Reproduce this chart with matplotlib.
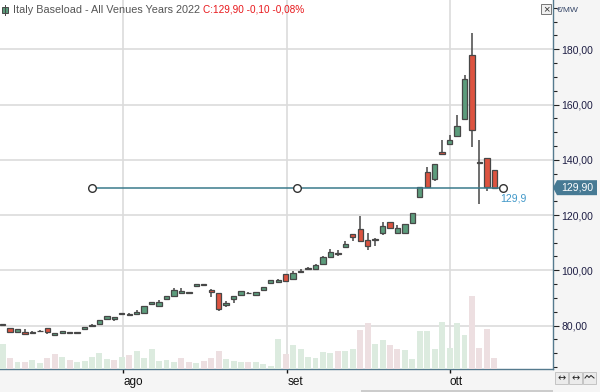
import matplotlib
matplotlib.use("Agg")
import matplotlib.pyplot as plt
from matplotlib.patches import Rectangle, Polygon
from matplotlib.ticker import MultipleLocator, FixedLocator

plt.rcParams['font.family'] = ['Liberation Sans', 'DejaVu Sans']

# ---------------- data (daily candles, index 0..66) ----------------
opens = [80.3, 79.0, 77.5, 77.8, 77.2, 77.9, 79.0, 76.6, 77.3, 77.6,
         77.4, 78.6, 79.9, 80.7, 82.5, 82.3, 84.3, 83.7, 84.1, 84.5,
         87.8, 87.2, 89.7, 90.8, 91.7, 91.8, 94.3, 94.6, 92.8, 91.8,
         87.5, 89.6, 90.9, 91.6, 90.9, 92.75, 95.5, 95.6, 98.5, 96.7,
         99.4, 100.6, 100.4, 102.2, 104.8, 106.2, 108.5, 113.1, 114.8, 110.9,
         110.9, 113.6, 117.4, 113.4, 113.6, 117.0, 126.6, 135.5, 132.9, 142.7,
         145.6, 148.7, 154.7, 177.9, 139.0, 140.5, 136.2]
highs = [80.7, 79.1, 78.7, 78.6, 78.0, 78.2, 79.1, 77.3, 78.0, 77.7,
         77.8, 79.4, 80.4, 82.0, 83.5, 83.1, 84.6, 84.4, 85.7, 87.2,
         88.6, 89.2, 90.8, 93.5, 93.5, 92.0, 95.0, 95.0, 93.2, 91.9,
         88.8, 90.6, 92.4, 92.0, 92.0, 93.9, 96.6, 96.7, 98.6, 99.7,
         100.3, 101.0, 102.3, 105.2, 107.7, 107.3, 110.5, 113.2, 119.6, 113.5,
         111.6, 117.5, 117.5, 116.4, 116.7, 120.7, 130.1, 137.5, 138.5, 147.2,
         149.0, 156.2, 170.7, 186.0, 147.2, 140.6, 136.3]
lows = [79.9, 77.5, 77.4, 76.7, 77.1, 77.8, 77.0, 76.3, 77.2, 77.4,
        77.2, 78.5, 79.7, 80.6, 82.3, 81.8, 84.1, 83.6, 84.0, 84.4,
        87.7, 87.1, 89.1, 90.7, 91.6, 91.6, 94.2, 94.4, 90.4, 85.4,
        86.6, 88.3, 90.8, 91.4, 90.8, 92.6, 95.4, 95.5, 95.9, 96.6,
        98.9, 100.3, 100.3, 102.1, 104.7, 105.3, 108.4, 110.5, 110.4, 107.4,
        108.7, 112.9, 115.0, 113.3, 113.4, 116.9, 126.5, 129.9, 132.3, 141.9,
        145.5, 148.6, 154.6, 144.8, 123.9, 128.8, 129.6]
closes = [80.6, 77.6, 78.6, 76.9, 77.7, 78.0, 77.7, 77.2, 77.9, 77.4,
          77.5, 79.4, 80.0, 81.9, 83.3, 83.0, 84.4, 84.3, 84.9, 87.1,
          88.5, 88.5, 90.7, 92.85, 92.5, 91.8, 94.9, 94.7, 92.0, 86.1,
          88.2, 90.6, 92.4, 91.7, 92.0, 93.8, 96.4, 96.4, 96.0, 99.0,
          99.6, 100.7, 101.9, 104.7, 106.6, 106.0, 109.5, 111.9, 110.7, 108.9,
          111.3, 116.0, 115.4, 115.3, 116.65, 120.6, 130.0, 130.3, 138.4, 142.0,
          147.2, 152.1, 169.1, 150.8, 138.9, 130.0, 129.9]
volumes = [25, 11, 7, 7, 9, 6, 11, 15, 12, 9,
           7, 8, 12, 16, 10, 9, 12, 14, 18, 11,
           20, 8, 9, 7, 11, 7, 6, 8, 11, 18,
           10, 8, 7, 7, 7, 5, 3, 30, 15, 24,
           20, 12, 11, 17, 16, 18, 18, 20, 39, 46,
           25, 29, 24, 20, 19, 10, 38, 38, 20, 47,
           21, 46, 34, 73, 21, 40, 11]

month_ticks = [16.2, 38.2, 60.05]
month_labels = ["ago", "set", "ott"]
level_value = 129.9
level_points = [12.0, 39.5, 67.2]
title = "Italy Baseload - All Venues Years 2022"
quote = "C:129,90 -0,10 -0,08%"

# ---------------- figure ----------------
W, H = 600, 392
fig = plt.figure(figsize=(W / 100, H / 100), dpi=100)
fig.patch.set_facecolor('#f5f5f5')

px_left, px_right, px_bottom = 0, 553, 369
ax = fig.add_axes([px_left / W, (H - px_bottom) / H, (px_right - px_left) / W, px_bottom / H])
ax.set_facecolor('white')

step = 7.45
x0 = 2.6
ax.set_xlim(-x0 / step, (px_right - x0) / step)
ymax = 180 + 49.3 / 2.762
ymin = 180 - (369 - 49.3) / 2.762
ax.set_ylim(ymin, ymax)

# grid
ax.yaxis.set_major_locator(MultipleLocator(20))
ax.yaxis.set_minor_locator(MultipleLocator(5))
ax.xaxis.set_major_locator(FixedLocator(month_ticks))
ax.grid(True, which='major', color='#dcdcdc', lw=1.2, zorder=0)
ax.set_axisbelow(True)

# volume (twin axis, pixel units)
axv = ax.twinx()
axv.set_ylim(0, px_bottom)
axv.patch.set_visible(False)
axv.set_yticks([])
for s in axv.spines.values():
    s.set_visible(False)
up_col, dn_col = '#dcebdf', '#eddfe1'
vcols = []
for i, c in enumerate(closes):
    prev = closes[i - 1] if i > 0 else c - 1
    vcols.append(up_col if c >= prev else dn_col)
axv.bar(range(len(volumes)), volumes, width=0.8, color=vcols, zorder=1, linewidth=0)

# candles overlay axis
axc = ax.twinx()
axc.set_ylim(ymin, ymax)
axc.patch.set_visible(False)
axc.set_yticks([])
for s in axc.spines.values():
    s.set_visible(False)

green, red, edge = '#5c9c7c', '#dc5340', '#474747'
bw = 0.72
for i in range(len(opens)):
    o, h, l, c = opens[i], highs[i], lows[i], closes[i]
    axc.vlines(i, l, h, color=edge, lw=1.1, zorder=2)
    lo, hi = min(o, c), max(o, c)
    hgt = max(hi - lo, 0.25)
    axc.add_patch(Rectangle((i - bw / 2, lo), bw, hgt, facecolor=green if c >= o else red,
                            edgecolor=edge, lw=0.9, zorder=3))

# horizontal level line
axc.plot(level_points, [level_value] * len(level_points), color='#3a7a8c', lw=1.1, zorder=4)
axc.plot(level_points, [level_value] * len(level_points), 'o', mfc='white', mec='#333333',
         ms=5.5, mew=1.0, zorder=5)
axc.annotate("129,9", xy=(level_points[-1], level_value), xytext=(7, -8),
             textcoords='offset points', ha='center', va='center',
             color='#3f97c8', fontsize=7.5, zorder=6)

# axes styling
for side in ('top', 'left'):
    ax.spines[side].set_visible(False)
for side in ('right', 'bottom'):
    ax.spines[side].set_color('#557a8e')
    ax.spines[side].set_linewidth(1.0)
ax.yaxis.tick_right()
ax.tick_params(axis='y', which='major', length=4, width=0.8, color='#222222', pad=2,
               labelsize=7.5, labelcolor='#1e1e44')
ax.tick_params(axis='y', which='minor', length=3, width=0.8, color='#222222')
ax.yaxis.set_major_formatter(plt.FuncFormatter(lambda v, p: f"{v:.2f}".replace('.', ',')))
ax.tick_params(axis='x', length=3, width=1.0, color='#111111', pad=2, labelsize=8.5,
               labelcolor='#111111')
ax.set_xticklabels(month_labels, ha='left')

# price tag on right axis
fig.canvas.draw()
yp = ax.transData.transform((0, closes[-1]))[1]
tag = [(553, yp), (557, yp + 7.5), (597, yp + 7.5), (597, yp - 7.5), (557, yp - 7.5)]
fig.patches.append(Polygon([(x / W, y / H) for x, y in tag], closed=True,
                           transform=fig.transFigure, facecolor='#477a94', edgecolor='none'))
fig.text(577 / W, yp / H, f"{closes[-1]:.2f}".replace('.', ','), color='white', fontsize=7.5,
         ha='center', va='center')

# unit label
fig.text(557 / W, 1 - 10 / H, "€/MW", color='#334466', fontsize=6, ha='left', va='center')

# title
t1 = fig.text(13 / W, 1 - 10 / H, title, color='#555555', fontsize=7.8, ha='left', va='center')
fig.canvas.draw()
bb = t1.get_window_extent()
fig.text((bb.x1 + 3) / W, 1 - 10 / H, quote, color='#e8181c', fontsize=7.2, ha='left', va='center')
# little candle icon
fig.patches.append(Rectangle((2 / W, 1 - 13 / H), 6 / W, 6 / H, transform=fig.transFigure,
                             facecolor=green, edgecolor=edge, lw=0.7))
fig.lines.append(plt.Line2D([5 / W, 5 / W], [1 - 15 / H, 1 - 5 / H], transform=fig.transFigure,
                            color=edge, lw=0.7))
# close button
fig.patches.append(Rectangle((541 / W, 1 - 14 / H), 10 / W, 10 / H, transform=fig.transFigure,
                             facecolor='#f0f0f0', edgecolor='#777777', lw=0.7))
fig.text(546 / W, 1 - 9 / H, "×", color='#333333', fontsize=8, ha='center', va='center')

# bottom right buttons
for k in range(3):
    xl = 555 + k * 14
    fig.patches.append(Rectangle((xl / W, (H - 384) / H), 13 / W, 12 / H, transform=fig.transFigure,
                                 facecolor='#ebebeb', edgecolor='#c4c4c4', lw=0.7))
    if k < 2:
        fig.text((xl + 6.5) / W, (H - 378) / H, "↔", color='#222222', fontsize=7, ha='center',
                 va='center', family=['DejaVu Sans'])
    else:
        wx = [xl + 2, xl + 4, xl + 6, xl + 8, xl + 11]
        wy = [378, 375.5, 377.5, 375.5, 378]
        fig.lines.append(plt.Line2D([x / W for x in wx], [(H - y) / H for y in wy],
                                    transform=fig.transFigure, color='#222222', lw=0.7))
# scrollbar hint
fig.patches.append(Rectangle((361 / W, 0), 192 / W, 2 / H, transform=fig.transFigure,
                             facecolor='#cccccc', edgecolor='none'))

fig.savefig("out.png", dpi=100, facecolor=fig.get_facecolor())
